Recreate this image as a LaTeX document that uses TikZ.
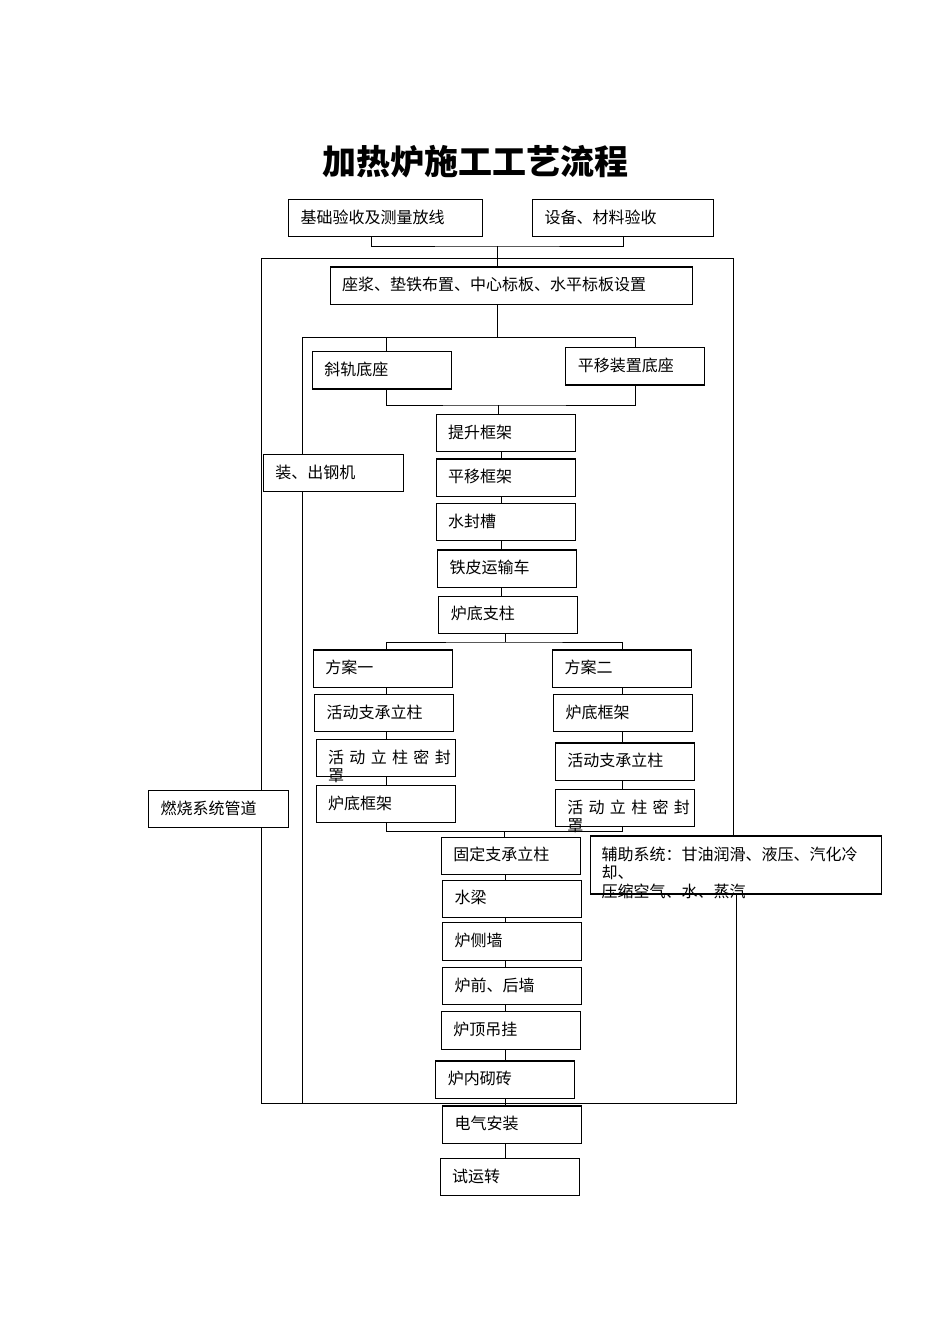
\documentclass[tikz,border=0pt]{standalone}
\usepackage{fontspec}
\setmainfont{Noto Sans CJK SC}

\begin{document}
\begin{tikzpicture}[
  x=1pt, y=-1pt,
  box/.style={draw, line width=1.1pt, fill=white, inner xsep=12pt, inner ysep=0pt, text width=#1, align=left, text height=23.8pt, text depth=13.6pt, font=\fontsize{16}{18.5}\selectfont},
  box/.default=115pt,
  link/.style={line width=1pt}
]
\useasboundingbox (0,0) rectangle (950,1344);
\node[font=\fontsize{34}{40}\selectfont\bfseries] (title) at (475.5,162) {加热炉施工工艺流程};

% top row
\node[box=170pt] (jc) at (385.5,218) {基础验收及测量放线};
\node[box=156.6pt] (sb) at (623,218) {设备、材料验收};
\node[box=338.3pt] (zj) at (511.2,285.7) {座浆、垫铁布置、中心标板、水平标板设置};
\node[box] (xg) at (381.8,370.3) {斜轨底座};
\node[box] (pz) at (635.3,366.3) {平移装置底座};

% middle column
\node[box] (ts) at (505.7,433) {提升框架};
\node[box] (pk) at (505.7,477.7) {平移框架};
\node[box] (sf) at (505.7,522.2) {水封槽};
\node[box] (tp) at (507,568.7) {铁皮运输车};
\node[box] (lz) at (508.3,614.8) {炉底支柱};
\node[box=116pt] (zc) at (333.3,473) {装、出钢机};

% two schemes
\node[box] (fa1) at (382.8,668.7) {方案一};
\node[box] (l1) at (384,713) {活动支承立柱};
\node[box] (l2) at (385.6,758) {\makebox[114pt][s]{活 动 立 柱 密 封}\\罩};
\node[box] (l3) at (385.6,804) {炉底框架};
\node[box] (fa2) at (622,668.7) {方案二};
\node[box] (r1) at (623.2,713) {炉底框架};
\node[box] (r2) at (624.8,761.7) {活动支承立柱};
\node[box] (r3) at (624.8,808) {\makebox[114pt][s]{活 动 立 柱 密 封}\\罩};
\node[box=115.6pt] (rs) at (218.5,809) {燃烧系统管道};

% lower column
\node[box] (gd) at (510.8,855.8) {固定支承立柱};
\node[box=268pt, inner xsep=11.5pt, text height=24.4pt, text depth=33.6pt] (fz) at (735.7,865) {辅助系统：甘油润滑、液压、汽化冷\\却、\\压缩空气、水、蒸汽};
\node[box] (sl) at (512,898.8) {水梁};
\node[box] (cq) at (512,941.5) {炉侧墙};
\node[box] (qh) at (512,986) {炉前、后墙};
\node[box] (dg) at (510.8,1030.5) {炉顶吊挂};
\node[box] (qz) at (505.3,1079.7) {炉内砌砖};
\node[box] (dq) at (512,1124.7) {电气安装};
\node[box] (ys) at (509.7,1177.2) {试运转};

% frame corners, buses and line columns
\coordinate (otl) at (261,258);
\coordinate (otr) at (733,258);
\coordinate (obl) at (261,1103);
\coordinate (obr) at (736,1103);
\coordinate (itl) at (302,337);
\coordinate (ibl) at (302,1103);
\coordinate (busA) at (497,246);
\coordinate (busB) at (498,405);
\coordinate (busC) at (504,642);
\coordinate (busD) at (504,831);
\coordinate (colM) at (501,0);
\coordinate (colN) at (505,0);
\coordinate (colL) at (386,0);
\coordinate (colR) at (622,0);

% top connectors
\draw[link] ([xshift=-14pt]jc.south) |- (busA) -| (sb.south);
\draw[link] (busA) -- (busA |- zj.north);
\draw[link] (busA |- zj.south) -- (busA |- itl);

% outer frame
\draw[link] (otl |- rs.north) -- (otl) -- (otr) -- (otr |- fz.north);
\draw[link] (otl |- rs.south) -- (obl) -- (obr) -- (obr |- fz.south);

% inner frame
\draw[link] (itl |- zc.north) -- (itl) -| (pz.north);
\draw[link] (itl |- zc.south) -- (ibl);
\draw[link] (colL |- itl) -- (colL |- xg.north);
\draw[link] (colL |- xg.south) |- (busB) -| (pz.south);
\draw[link] (busB) -- (busB |- ts.north);

\foreach \a/\b in {ts/pk, pk/sf, sf/tp, tp/lz}
  \draw[link] (colM |- \a.south) -- (colM |- \b.north);

% schemes
\draw[link] (colN |- lz.south) -- (colN |- busC);
\draw[link] (colL |- fa1.north) |- (busC) -| (colR |- fa2.north);
\foreach \a/\b in {fa1/l1, l1/l2, l2/l3}
  \draw[link] (colL |- \a.south) -- (colL |- \b.north);
\foreach \a/\b in {fa2/r1, r1/r2, r2/r3}
  \draw[link] (colR |- \a.south) -- (colR |- \b.north);
\draw[link] (colL |- l3.south) |- (busD) -| (colR |- r3.south);
\draw[link] (busD) -- (busD |- gd.north);

\foreach \a/\b in {gd/sl, sl/cq, cq/qh, qh/dg, dg/qz}
  \draw[link] (colN |- \a.south) -- (colN |- \b.north);
\draw[link] (colN |- qz.south) -- (colN |- dq.north);
\draw[link] (colN |- dq.south) -- (colN |- ys.north);
\end{tikzpicture}
\end{document}
